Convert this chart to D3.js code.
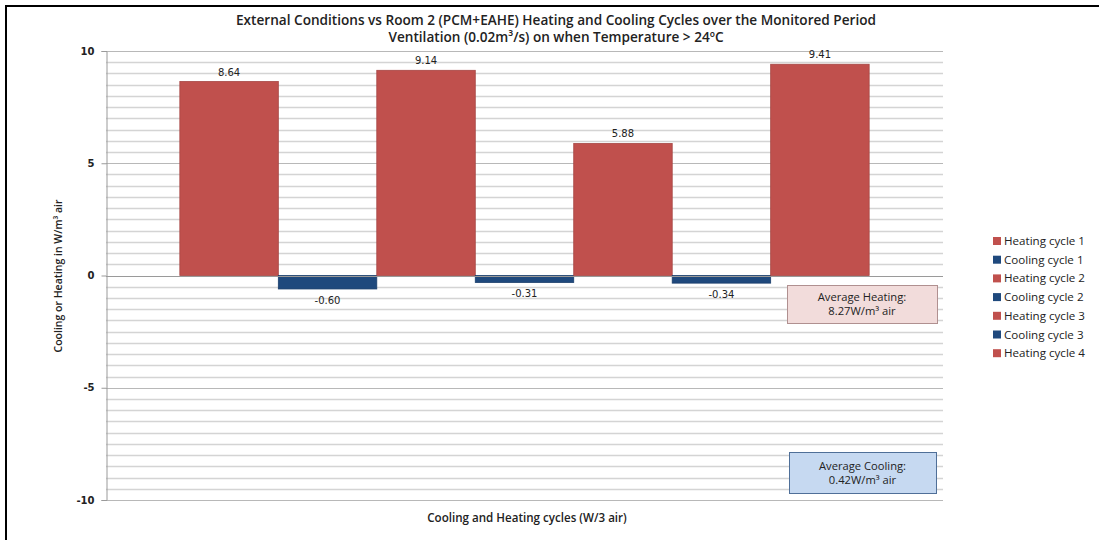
<!DOCTYPE html>
<html><head><meta charset="utf-8">
<script src="https://cdn.jsdelivr.net/npm/d3@7"></script>
<style>body{margin:0;background:#fff;} svg{display:block;}</style>
</head><body>
<svg id="chart" width="1099" height="540"></svg>
<script>
const series = ["Heating cycle 1","Cooling cycle 1","Heating cycle 2","Cooling cycle 2","Heating cycle 3","Cooling cycle 3","Heating cycle 4"];
const values = [8.64, -0.60, 9.14, -0.31, 5.88, -0.34, 9.41];
const labels = ["8.64","-0.60","9.14","-0.31","5.88","-0.34","9.41"];
const yTicks = [-10, -5, 0, 5, 10];
const titleLines = ["External Conditions vs Room 2 (PCM+EAHE) Heating and Cooling Cycles over the Monitored Period",
                    "Ventilation (0.02m³/s) on when Temperature > 24ºC"];
const yTitle = "Cooling or Heating in W/m³ air";
const xTitle = "Cooling and Heating cycles (W/3 air)";
const notes = [["Average Heating:", "8.27W/m³ air"], ["Average Cooling:", "0.42W/m³ air"]];

const RED = "#c0504d", BLUE = "#1f497d";
const color = s => s.startsWith("Heating") ? RED : BLUE;
const FONT = "'Open Sans', Lato, sans-serif";

const svg = d3.select("#chart");
const L = 106, R = 943, T = 51, B = 500;
const x = d3.scaleBand().domain(series).range([L, R]).paddingInner(0).paddingOuter(0.75);
const y = d3.scaleLinear().domain([-10, 10]).range([B, T]);

// frame
svg.append("line").attr("x1", 6).attr("x2", 6).attr("y1", 5).attr("y2", 540).attr("stroke", "#000").attr("stroke-width", 2);
svg.append("line").attr("x1", 5).attr("x2", 1099).attr("y1", 6).attr("y2", 6).attr("stroke", "#000").attr("stroke-width", 2);

// gridlines
svg.append("g").selectAll("line").data(y.ticks(40)).join("line")
  .attr("x1", L).attr("x2", R)
  .attr("y1", d => Math.round(y(d)) + 0.5).attr("y2", d => Math.round(y(d)) + 0.5)
  .attr("stroke", d => d % 5 === 0 ? "#b8b8b8" : "#d4d4d4").attr("stroke-width", d => d % 5 === 0 ? 1.2 : 1.3);

// y axis
const yAxis = d3.axisLeft(y).tickValues(yTicks).tickSize(5).tickFormat(d => String(d));
const gy = svg.append("g").attr("transform", `translate(${L + 0.5},0)`).call(yAxis);
gy.select(".domain").attr("stroke", "#9a9a9a");
gy.selectAll(".tick line").attr("stroke", "#9a9a9a");
gy.selectAll(".tick text").attr("x", -12).attr("font-family", "'DejaVu Sans', sans-serif").attr("font-weight", "bold")
  .attr("font-size", 10).attr("fill", "#222").attr("text-anchor", "end");

// bars
svg.append("g").selectAll("rect").data(series).join("rect")
  .attr("x", d => x(d)).attr("width", x.bandwidth())
  .attr("y", (d, i) => y(Math.max(0, values[i])))
  .attr("height", (d, i) => Math.abs(y(values[i]) - y(0)))
  .attr("fill", color).attr("stroke", d => d3.color(color(d)).darker(0.4)).attr("stroke-width", 0.8);

// zero line
svg.append("line").attr("x1", L).attr("x2", R).attr("y1", Math.round(y(0)) + 0.5).attr("y2", Math.round(y(0)) + 0.5)
  .attr("stroke", "#9a9a9a");

// data labels
svg.append("g").selectAll("text").data(series).join("text")
  .attr("x", d => x(d) + x.bandwidth() / 2)
  .attr("y", (d, i) => values[i] >= 0 ? y(values[i]) - 6 : y(values[i]) + 15)
  .attr("text-anchor", "middle").attr("font-family", "'DejaVu Sans', sans-serif").attr("font-size", 10)
  .attr("fill", "#222").text((d, i) => labels[i]);

// title
svg.append("g").selectAll("text").data(titleLines).join("text")
  .attr("x", 556).attr("y", (d, i) => 25 + i * 17).attr("text-anchor", "middle")
  .attr("font-family", FONT).attr("font-weight", 600).attr("font-size", 13.6).attr("fill", "#222").text(d => d);

// axis titles
svg.append("text").attr("transform", "translate(62,276) rotate(-90)").attr("text-anchor", "middle")
  .attr("font-family", FONT).attr("font-weight", 600).attr("font-size", 10.5).attr("fill", "#222").text(yTitle);
svg.append("text").attr("x", 527).attr("y", 522).attr("text-anchor", "middle")
  .attr("font-family", FONT).attr("font-weight", 600).attr("font-size", 11.6).attr("fill", "#222").text(xTitle);

// annotation boxes
const boxes = [{x: 787, y: 285, w: 150, h: 38, fill: "#f2dcdb", stroke: "#b09090"},
               {x: 789, y: 452, w: 147, h: 41, fill: "#c6d9f1", stroke: "#4f6f98"}];
boxes.forEach((b, i) => {
  svg.append("rect").attr("x", b.x + 0.5).attr("y", b.y + 0.5).attr("width", b.w).attr("height", b.h)
    .attr("fill", b.fill).attr("stroke", b.stroke);
  svg.append("g").selectAll("text").data(notes[i]).join("text")
    .attr("x", b.x + b.w / 2).attr("y", (d, j) => b.y + b.h / 2 - 3 + j * 14).attr("text-anchor", "middle")
    .attr("font-family", FONT).attr("font-size", 11.2).attr("fill", "#222").text(d => d);
});

// legend
const lg = svg.append("g").selectAll("g").data(series).join("g")
  .attr("transform", (d, i) => `translate(993,${241 + i * 18.7})`);
lg.append("rect").attr("x", 0).attr("y", -4).attr("width", 8).attr("height", 8).attr("fill", color);
lg.append("text").attr("x", 11).attr("y", 4).attr("font-family", FONT).attr("font-size", 11.6)
  .attr("fill", "#222").text(d => d);
</script>
</body></html>
